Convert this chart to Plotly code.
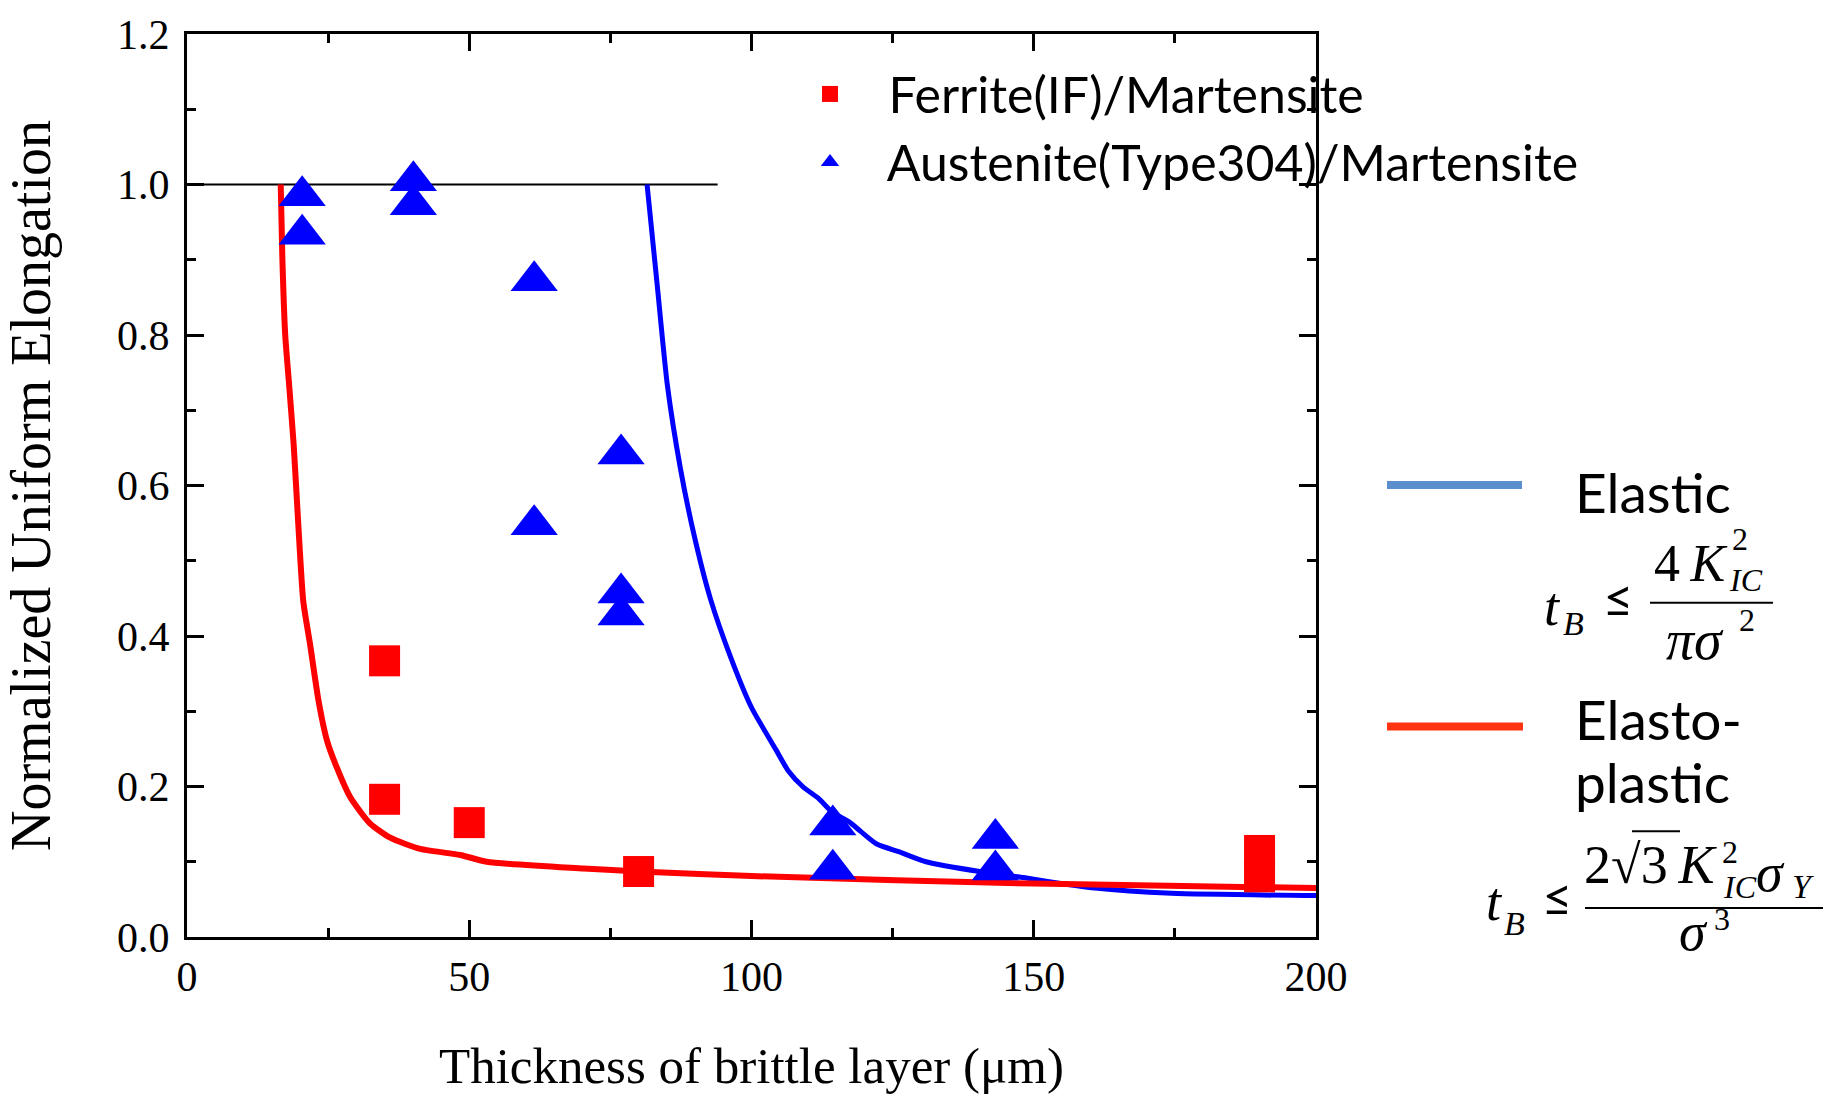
import plotly.graph_objects as go

# ---------------- data ----------------
ferrite_x = [35, 35, 50, 80, 190, 190]
ferrite_y = [0.367, 0.183, 0.152, 0.087, 0.115, 0.080]

austenite_x = [20.4, 20.4, 40.1, 40.1, 61.5, 61.5, 76.9, 76.9, 76.9, 114.4, 114.4, 143.2, 143.2]
austenite_y = [0.985, 0.934, 1.005, 0.973, 0.872, 0.548, 0.642, 0.457, 0.428, 0.149, 0.090, 0.131, 0.089]

elastic_x = [81.5, 83.3, 85.1, 87.4, 89.8, 92.7, 96.3, 100.0, 104.4, 106.5, 109.2, 111.9,
             114.3, 117.3, 119.4, 122.1, 126.2, 130.9, 140.4, 147.2, 160.8, 174.4, 200]
elastic_y = [1.0, 0.866, 0.733, 0.623, 0.535, 0.450, 0.372, 0.305, 0.248, 0.221, 0.199, 0.184,
             0.166, 0.153, 0.140, 0.124, 0.113, 0.100, 0.087, 0.080, 0.065, 0.058, 0.055]

elastoplastic_x = [16.6, 16.9, 17.4, 18.1, 18.9, 19.7, 20.6, 21.8, 23.3, 24.8, 26.5, 28.9, 32.4, 36.0,
                   41.3, 48.4, 53.1, 70.3, 80.1, 100, 150, 200]
elastoplastic_y = [1.0, 0.90, 0.80, 0.733, 0.654, 0.55, 0.446, 0.389, 0.314, 0.261, 0.226, 0.186, 0.151,
                   0.132, 0.117, 0.109, 0.100, 0.091, 0.087, 0.081, 0.071, 0.065]

limit_x = [0, 94]
limit_y = [1.0, 1.0]

x_ticks = [0, 50, 100, 150, 200]
y_ticks = [0.0, 0.2, 0.4, 0.6, 0.8, 1.0, 1.2]

# ---------------- layout geometry (pixels) ----------------
W, H = 1829, 1096
L, R, T, B = 187, 1316, 32, 937
PW, PH = R - L, B - T

def px(x):
    return (x - L) / PW

def py(y):
    return (B - y) / PH

SERIF = "Liberation Serif, Times New Roman, serif"
SANS = "Lato, Open Sans, sans-serif"
NB = "\u00a0"
TS = "\u2009"

fig = go.Figure()

fig.add_trace(go.Scatter(x=limit_x, y=limit_y, mode="lines",
                         line=dict(color="black", width=2), showlegend=False, hoverinfo="skip"))
fig.add_trace(go.Scatter(x=elastic_x, y=elastic_y, mode="lines",
                         line=dict(color="#0000FF", width=5, shape="spline", smoothing=0.6), showlegend=False))
fig.add_trace(go.Scatter(x=elastoplastic_x, y=elastoplastic_y, mode="lines",
                         line=dict(color="#FF0000", width=6, shape="spline", smoothing=0.6), showlegend=False))
fig.add_trace(go.Scatter(x=ferrite_x, y=ferrite_y, mode="markers",
                         name=NB * 3 + "Ferrite(IF)/Martensite",
                         marker=dict(symbol="square", size=31, color="#FF0000")))
fig.add_trace(go.Scatter(x=austenite_x, y=austenite_y, mode="markers",
                         name=NB * 3 + "Austenite(Type304)/Martensite",
                         marker=dict(symbol="triangle-up", size=41, color="#0000FF")))

axis_common = dict(
    showline=True, linecolor="black", linewidth=3, mirror="allticks",
    ticks="inside", ticklen=17, tickwidth=3, tickcolor="black",
    showgrid=False, zeroline=False,
    tickfont=dict(family=SERIF, size=42, color="black"),
)

fig.update_xaxes(range=[0, 200], tickvals=x_ticks, ticktext=[str(v) for v in x_ticks],
                 minor=dict(dtick=25, tick0=0, ticks="inside", ticklen=9, tickwidth=3, tickcolor="black"),
                 title=dict(text="Thickness of brittle layer (μm)", standoff=48,
                            font=dict(family=SERIF, size=51, color="black")),
                 ticklabelstandoff=1,
                 **axis_common)
fig.update_yaxes(range=[0, 1.2], tickvals=y_ticks, ticktext=[f"{v:.1f}" for v in y_ticks],
                 minor=dict(dtick=0.1, tick0=0, ticks="inside", ticklen=9, tickwidth=3, tickcolor="black"),
                 title=dict(text="Normalized Uniform Elongation", standoff=50,
                            font=dict(family=SERIF, size=56, color="black")),
                 ticklabelstandoff=6,
                 **axis_common)

annotations = []

def txt(s, xc, base, size, family=SERIF, xanchor="center", k=None):
    if k is None:
        k = 0.34 if family == SERIF else 0.39
    annotations.append(dict(text=s, x=px(xc), y=py(base - k * size), xref="paper", yref="paper",
                            xanchor=xanchor, yanchor="middle", showarrow=False,
                            font=dict(family=family, size=size, color="black")))

shapes = []

def hline(x0, x1, y, color, width):
    shapes.append(dict(type="line", xref="paper", yref="paper", x0=px(x0), x1=px(x1),
                       y0=py(y), y1=py(y), line=dict(color=color, width=width)))

# Elastic legend + formula
hline(1387, 1522, 484, "#5B8ECD", 8)
txt("Elastic", 1573, 512, 55, SANS, xanchor="left")
txt("<i>t</i>", 1552, 625, 54)
txt("<i>B</i>", 1573, 634, 34)
txt("≤", 1618, 617, 52, SANS)
hline(1650, 1773, 602, "black", 2)
txt("4" + TS + "<i>K</i>", 1690, 580, 52)
txt("2", 1740, 549, 32)
txt("<i>IC</i>", 1746, 590, 32)
txt("<i>πσ</i>", 1695, 658, 56)
txt("2", 1747, 630, 32)

# Elasto-plastic legend + formula
hline(1387, 1523, 726, "#FF3311", 8)
txt("Elasto-", 1573, 740, 55, SANS, xanchor="left")
txt("plastic", 1573, 803, 55, SANS, xanchor="left")
txt("<i>t</i>", 1494, 920, 54)
txt("<i>B</i>", 1514, 935, 34)
txt("≤", 1557, 916, 52, SANS)
hline(1585, 1823, 908, "black", 2)
txt("2√3" + TS + "<i>K</i>", 1650, 883, 54)
hline(1632, 1680, 831, "black", 2)
txt("2", 1730, 863, 32)
txt("<i>IC</i>", 1740, 898, 32)
txt("<i>σ</i>", 1770, 891, 54)
txt("<i>Y</i>", 1803, 898, 34)
txt("<i>σ</i>", 1693, 950, 54)
txt("3", 1722, 930, 32)

fig.update_layout(
    width=W, height=H, autosize=False,
    margin=dict(l=L, r=W - R, t=T, b=H - B, pad=0),
    paper_bgcolor="white", plot_bgcolor="white",
    showlegend=True,
    legend=dict(x=px(810), y=py(53), xanchor="left", yanchor="top",
                bgcolor="rgba(0,0,0,0)", borderwidth=0,
                font=dict(family=SANS, size=50, color="black"),
                tracegroupgap=0),
    annotations=annotations,
    shapes=shapes,
)

fig.write_html("out.html")
